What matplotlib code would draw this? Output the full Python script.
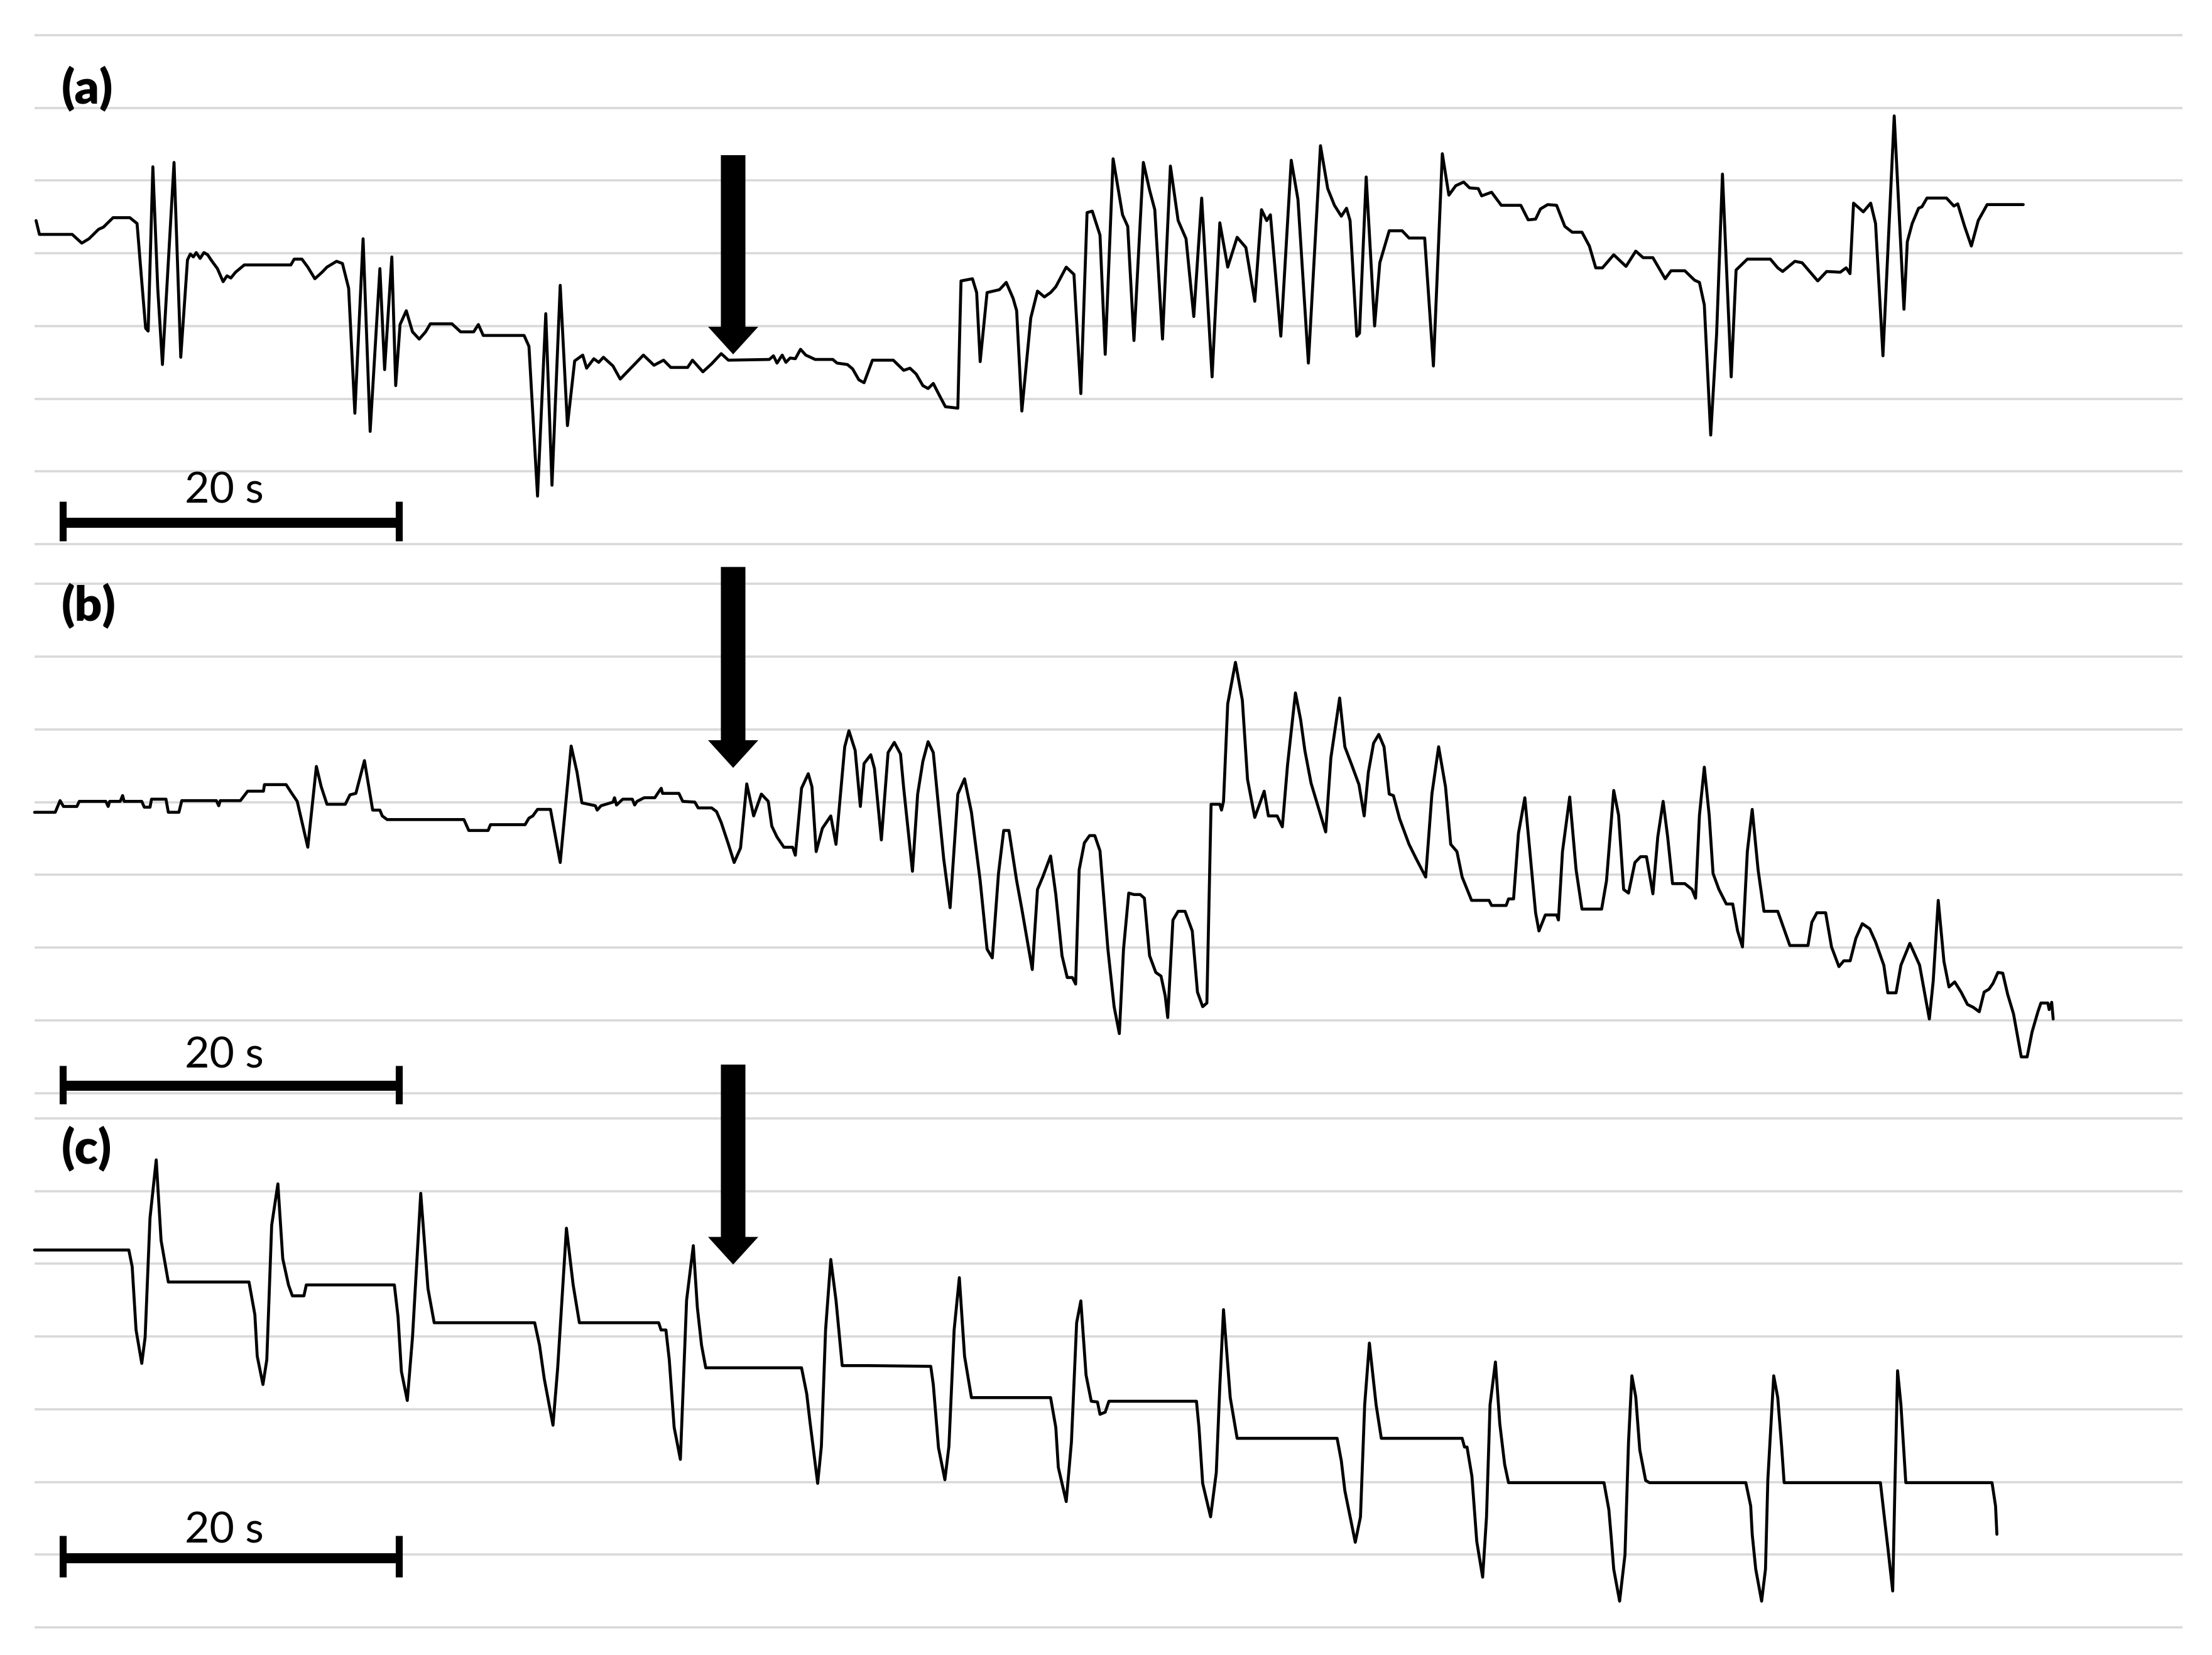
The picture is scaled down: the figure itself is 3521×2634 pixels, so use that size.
import matplotlib
matplotlib.use('Agg')
import matplotlib.pyplot as plt
from matplotlib.patches import FancyArrow

# traces: (time in s, amplitude in grid units)
trace_a = [
    (0.09, 4.45), (0.29, 4.26), (2.24, 4.26), (2.81, 4.14), (3.24, 4.20), (3.81, 4.33), (4.10, 4.36),
    (4.67, 4.49), (5.67, 4.49), (6.10, 4.41), (6.38, 3.61), (6.61, 2.97), (6.76, 2.93), (7.04, 5.19),
    (7.33, 3.52), (7.61, 2.47), (8.30, 5.25), (8.70, 2.57), (9.10, 3.91), (9.27, 3.99), (9.45, 3.95),
    (9.62, 4.01), (9.85, 3.93), (10.08, 4.01), (10.30, 3.98), (10.53, 3.90), (10.88, 3.79), (11.22, 3.61),
    (11.45, 3.69), (11.68, 3.66), (11.96, 3.74), (12.48, 3.84), (15.25, 3.84), (15.45, 3.92), (15.91, 3.92),
    (16.26, 3.81), (16.68, 3.65), (17.11, 3.74), (17.40, 3.81), (17.97, 3.89), (18.32, 3.86), (18.69, 3.52),
    (19.06, 1.80), (19.55, 4.20), (19.97, 1.55), (20.55, 3.79), (20.83, 2.40), (21.26, 3.95), (21.49, 2.18),
    (21.75, 3.02), (22.12, 3.21), (22.49, 2.92), (22.89, 2.82), (23.27, 2.92), (23.55, 3.03), (24.84, 3.03),
    (25.35, 2.92), (26.13, 2.92), (26.41, 3.02), (26.70, 2.87), (29.13, 2.87), (29.42, 2.72), (29.93, 0.66),
    (30.42, 3.17), (30.79, 0.81), (31.28, 3.56), (31.71, 1.63), (32.14, 2.52), (32.62, 2.60), (32.85, 2.42),
    (33.28, 2.55), (33.57, 2.50), (33.85, 2.57), (34.42, 2.45), (34.85, 2.27), (36.23, 2.60), (36.86, 2.46),
    (37.43, 2.53), (37.86, 2.43), (38.86, 2.43), (39.15, 2.53), (39.77, 2.37), (40.29, 2.48), (40.86, 2.62),
    (41.29, 2.53), (43.72, 2.54), (43.97, 2.59), (44.18, 2.49), (44.49, 2.60), (44.71, 2.50), (44.96, 2.56),
    (45.27, 2.55), (45.58, 2.68), (45.89, 2.60), (46.45, 2.54), (47.50, 2.54), (47.75, 2.49), (48.37, 2.47),
    (48.68, 2.41), (49.05, 2.26), (49.36, 2.22), (49.86, 2.53), (51.10, 2.53), (51.72, 2.39), (52.09, 2.42),
    (52.46, 2.34), (52.86, 2.18), (53.17, 2.14), (53.48, 2.21), (53.79, 2.07), (54.20, 1.89), (54.94, 1.87),
    (55.13, 3.62), (55.81, 3.65), (56.06, 3.46), (56.27, 2.51), (56.68, 3.46), (57.05, 3.48), (57.42, 3.50),
    (57.82, 3.60), (58.23, 3.38), (58.44, 3.21), (58.75, 1.83), (59.28, 3.11), (59.68, 3.48), (60.09, 3.40),
    (60.46, 3.46), (60.77, 3.54), (61.39, 3.81), (61.85, 3.71), (62.26, 2.07), (62.63, 4.56), (62.94, 4.58),
    (63.40, 4.25), (63.71, 2.61), (64.18, 5.30), (64.74, 4.53), (65.05, 4.37), (65.42, 2.80), (65.98, 5.25),
    (66.35, 4.87), (66.66, 4.60), (67.12, 2.82), (67.59, 5.20), (68.05, 4.45), (68.52, 4.20), (68.98, 3.13),
    (69.45, 4.76), (70.07, 2.30), (70.53, 4.42), (71.00, 3.81), (71.56, 4.22), (72.08, 4.08), (72.61, 3.34),
    (73.01, 4.60), (73.32, 4.45), (73.54, 4.53), (74.16, 2.86), (74.78, 5.28), (75.18, 4.74), (75.80, 2.49),
    (76.52, 5.48), (76.95, 4.89), (77.35, 4.66), (77.76, 4.51), (78.07, 4.62), (78.28, 4.45), (78.68, 2.86),
    (78.84, 2.90), (79.24, 5.05), (79.74, 3.00), (80.05, 3.87), (80.61, 4.31), (81.38, 4.31), (81.79, 4.21),
    (82.72, 4.21), (83.24, 2.45), (83.77, 5.37), (84.16, 4.80), (84.57, 4.93), (85.04, 4.98), (85.39, 4.90),
    (85.91, 4.89), (86.11, 4.79), (86.70, 4.84), (87.28, 4.66), (88.44, 4.66), (88.88, 4.46), (89.32, 4.47),
    (89.61, 4.61), (90.04, 4.67), (90.57, 4.66), (91.06, 4.37), (91.50, 4.29), (92.08, 4.29), (92.52, 4.10),
    (92.90, 3.80), (93.30, 3.80), (93.97, 3.98), (94.70, 3.82), (95.28, 4.03), (95.72, 3.94), (96.30, 3.94),
    (97.03, 3.65), (97.38, 3.76), (98.20, 3.76), (98.78, 3.63), (99.07, 3.60), (99.36, 3.29), (99.74, 1.50),
    (100.09, 2.88), (100.44, 5.09), (100.96, 2.30), (101.25, 3.77), (101.92, 3.92), (103.29, 3.92),
    (103.73, 3.80), (104.02, 3.75), (104.75, 3.89), (105.18, 3.87), (106.11, 3.62), (106.64, 3.75),
    (107.45, 3.74), (107.80, 3.80), (108.03, 3.72), (108.24, 4.69), (108.82, 4.57), (109.26, 4.69),
    (109.55, 4.41), (109.99, 2.59), (110.66, 5.89), (111.24, 3.23), (111.44, 4.16), (111.73, 4.41),
    (112.11, 4.62), (112.31, 4.64), (112.61, 4.76), (113.77, 4.76), (114.21, 4.65), (114.44, 4.68),
    (114.85, 4.37), (115.25, 4.10), (115.66, 4.45), (116.19, 4.67), (118.34, 4.67),
]

trace_b = [
    (0.00, 3.86), (1.23, 3.86), (1.52, 4.02), (1.72, 3.94), (2.52, 3.94), (2.66, 4.01), (4.24, 4.01),
    (4.38, 3.94), (4.47, 4.01), (5.10, 4.01), (5.24, 4.09), (5.33, 4.01), (6.38, 4.01), (6.53, 3.93),
    (6.87, 3.93), (6.96, 4.04), (7.82, 4.04), (7.96, 3.86), (8.59, 3.86), (8.76, 4.02), (10.82, 4.02),
    (10.96, 3.95), (11.05, 4.02), (12.25, 4.02), (12.68, 4.15), (13.62, 4.15), (13.68, 4.24), (14.97, 4.24),
    (15.25, 4.14), (15.63, 4.01), (16.26, 3.38), (16.77, 4.49), (17.06, 4.21), (17.40, 3.97), (18.49, 3.97),
    (18.77, 4.10), (19.12, 4.12), (19.63, 4.57), (20.12, 3.89), (20.55, 3.89), (20.69, 3.81), (20.98, 3.76),
    (25.55, 3.76), (25.84, 3.61), (26.99, 3.61), (27.13, 3.69), (29.19, 3.69), (29.42, 3.78), (29.65, 3.81),
    (29.93, 3.90), (30.70, 3.90), (31.28, 3.17), (31.93, 4.77), (32.28, 4.41), (32.57, 3.99), (33.37, 3.95),
    (33.48, 3.89), (33.71, 3.95), (34.42, 4.00), (34.51, 4.06), (34.63, 3.96), (35.00, 4.04), (35.57, 4.04),
    (35.71, 3.96), (35.85, 4.01), (36.28, 4.06), (36.91, 4.06), (37.14, 4.14), (37.29, 4.19), (37.37, 4.12),
    (38.34, 4.12), (38.57, 4.01), (39.29, 4.00), (39.49, 3.92), (40.29, 3.92), (40.58, 3.87), (40.86, 3.72),
    (41.29, 3.42), (41.63, 3.17), (42.01, 3.37), (42.38, 4.25), (42.79, 3.81), (43.25, 4.11), (43.66, 4.01),
    (43.87, 3.67), (44.18, 3.52), (44.59, 3.38), (45.11, 3.38), (45.27, 3.27), (45.64, 4.19), (46.04, 4.39),
    (46.26, 4.21), (46.51, 3.32), (46.88, 3.64), (47.38, 3.81), (47.69, 3.42), (48.21, 4.76), (48.46, 4.98),
    (48.83, 4.71), (49.14, 3.94), (49.36, 4.53), (49.76, 4.65), (49.98, 4.46), (50.39, 3.48), (50.79, 4.68),
    (51.16, 4.82), (51.53, 4.66), (51.72, 4.19), (52.24, 3.05), (52.55, 4.11), (52.86, 4.56), (53.17, 4.83),
    (53.48, 4.68), (53.79, 3.94), (54.10, 3.22), (54.48, 2.55), (54.94, 4.11), (55.34, 4.32), (55.75, 3.86),
    (56.27, 2.92), (56.68, 1.98), (56.99, 1.86), (57.36, 3.02), (57.67, 3.61), (57.98, 3.61), (58.44, 2.92),
    (58.75, 2.53), (59.37, 1.70), (59.68, 2.80), (59.99, 2.97), (60.46, 3.26), (60.77, 2.73), (61.14, 1.89),
    (61.45, 1.59), (61.76, 1.59), (61.95, 1.50), (62.16, 3.07), (62.47, 3.44), (62.78, 3.54), (63.09, 3.54),
    (63.40, 3.33), (63.87, 1.98), (64.24, 1.19), (64.55, 0.82), (64.80, 1.98), (65.11, 2.75), (65.42, 2.73),
    (65.79, 2.73), (66.04, 2.68), (66.35, 1.89), (66.72, 1.66), (67.03, 1.61), (67.28, 1.34), (67.43, 1.04),
    (67.74, 2.38), (68.05, 2.50), (68.46, 2.50), (68.89, 2.23), (69.20, 1.39), (69.51, 1.19), (69.76, 1.24),
    (70.01, 3.97), (70.53, 3.97), (70.63, 3.89), (70.75, 4.01), (71.00, 5.35), (71.46, 5.92), (71.87, 5.40),
    (72.18, 4.31), (72.61, 3.79), (73.17, 4.15), (73.42, 3.81), (73.94, 3.81), (74.25, 3.66), (74.56, 4.51),
    (75.03, 5.50), (75.34, 5.13), (75.59, 4.71), (75.96, 4.26), (76.83, 3.59), (77.14, 4.61), (77.66, 5.43),
    (77.97, 4.76), (78.38, 4.51), (78.81, 4.24), (79.12, 3.81), (79.37, 4.41), (79.68, 4.81), (79.99, 4.93),
    (80.30, 4.76), (80.61, 4.11), (80.86, 4.09), (81.23, 3.77), (81.79, 3.42), (82.22, 3.22), (82.78, 2.97),
    (83.15, 4.11), (83.55, 4.76), (83.96, 4.21), (84.27, 3.42), (84.64, 3.32), (84.95, 2.97), (85.51, 2.65),
    (86.55, 2.65), (86.70, 2.58), (87.57, 2.58), (87.71, 2.67), (88.01, 2.67), (88.30, 3.57), (88.68, 4.06),
    (89.02, 3.22), (89.32, 2.48), (89.52, 2.23), (89.90, 2.45), (90.57, 2.45), (90.68, 2.38), (90.92, 3.32),
    (91.35, 4.07), (91.73, 3.07), (92.08, 2.53), (93.25, 2.53), (93.54, 2.92), (93.97, 4.16), (94.26, 3.82),
    (94.56, 2.80), (94.85, 2.75), (95.23, 3.17), (95.57, 3.25), (95.92, 3.25), (96.30, 2.74), (96.59, 3.52),
    (96.91, 4.01), (97.18, 3.52), (97.47, 2.88), (98.20, 2.88), (98.63, 2.80), (98.84, 2.68), (99.07, 3.82),
    (99.36, 4.48), (99.65, 3.82), (99.88, 3.02), (100.23, 2.80), (100.67, 2.60), (101.05, 2.60),
    (101.34, 2.23), (101.63, 2.01), (101.92, 3.32), (102.21, 3.90), (102.56, 3.07), (102.91, 2.50),
    (103.73, 2.50), (104.45, 2.03), (105.53, 2.03), (105.76, 2.35), (106.06, 2.48), (106.58, 2.48),
    (106.93, 2.01), (107.37, 1.74), (107.66, 1.82), (108.04, 1.82), (108.38, 2.13), (108.76, 2.33),
    (109.20, 2.26), (109.55, 2.08), (110.04, 1.76), (110.28, 1.38), (110.77, 1.38), (111.06, 1.76),
    (111.59, 2.06), (112.17, 1.76), (112.75, 1.02), (112.98, 1.54), (113.28, 2.65), (113.62, 1.81),
    (113.92, 1.46), (114.26, 1.53), (114.64, 1.39), (115.02, 1.22), (115.37, 1.18), (115.72, 1.12),
    (116.01, 1.39), (116.30, 1.43), (116.54, 1.51), (116.83, 1.66), (117.12, 1.65), (117.41, 1.36),
    (117.76, 1.09), (118.22, 0.50), (118.57, 0.50), (118.86, 0.84), (119.21, 1.12), (119.39, 1.24),
    (119.80, 1.24), (119.88, 1.15), (120.03, 1.25), (120.12, 1.02),
]

trace_c = [
    (0.00, 5.19), (5.61, 5.19), (5.81, 4.96), (6.04, 4.09), (6.38, 3.63), (6.58, 3.99), (6.87, 5.63),
    (7.24, 6.43), (7.53, 5.32), (7.96, 4.75), (12.76, 4.75), (13.11, 4.30), (13.25, 3.73), (13.59, 3.34),
    (13.82, 3.68), (14.11, 5.53), (14.48, 6.10), (14.77, 5.07), (15.11, 4.71), (15.34, 4.56), (16.03, 4.56),
    (16.17, 4.71), (21.41, 4.71), (21.63, 4.27), (21.83, 3.52), (22.18, 3.12), (22.49, 3.99), (22.98, 5.97),
    (23.41, 4.66), (23.78, 4.19), (29.76, 4.19), (30.05, 3.88), (30.33, 3.42), (30.85, 2.78), (31.13, 3.57),
    (31.65, 5.49), (32.05, 4.71), (32.42, 4.19), (37.14, 4.19), (37.28, 4.09), (37.57, 4.09), (37.77, 3.68),
    (38.06, 2.75), (38.43, 2.31), (38.80, 4.50), (39.20, 5.25), (39.44, 4.40), (39.69, 3.88), (39.94, 3.57),
    (45.64, 3.57), (45.95, 3.21), (46.14, 2.83), (46.60, 1.98), (46.82, 2.49), (47.07, 4.09), (47.38, 5.06),
    (47.69, 4.50), (48.06, 3.60), (49.61, 3.60), (53.33, 3.59), (53.48, 3.34), (53.79, 2.47), (54.17, 2.03),
    (54.41, 2.49), (54.72, 4.09), (55.03, 4.81), (55.34, 3.73), (55.75, 3.16), (60.46, 3.16), (60.77, 2.75),
    (60.92, 2.20), (61.39, 1.73), (61.70, 2.55), (62.01, 4.19), (62.26, 4.49), (62.57, 3.47), (62.88, 3.11),
    (63.25, 3.10), (63.40, 2.93), (63.71, 2.96), (63.93, 3.11), (69.14, 3.11), (69.29, 2.75), (69.51, 1.98),
    (69.98, 1.52), (70.32, 2.13), (70.53, 3.32), (70.75, 4.37), (71.15, 3.16), (71.56, 2.60), (77.51, 2.60),
    (77.76, 2.29), (77.97, 1.88), (78.59, 1.17), (78.90, 1.52), (79.15, 3.06), (79.43, 3.91), (79.83, 3.06),
    (80.14, 2.60), (84.95, 2.60), (85.09, 2.48), (85.24, 2.48), (85.53, 2.08), (85.82, 1.18), (86.17, 0.69),
    (86.40, 1.52), (86.61, 3.06), (86.93, 3.65), (87.19, 2.80), (87.48, 2.24), (87.71, 1.99), (93.39, 1.99),
    (93.68, 1.62), (93.83, 1.21), (93.97, 0.80), (94.32, 0.36), (94.64, 1.00), (94.85, 2.55), (95.05, 3.46),
    (95.28, 3.17), (95.52, 2.44), (95.87, 2.02), (96.10, 1.99), (101.83, 1.99), (102.12, 1.67),
    (102.21, 1.28), (102.42, 0.80), (102.77, 0.36), (103.00, 0.80), (103.14, 2.03), (103.49, 3.46),
    (103.73, 3.16), (103.96, 2.49), (104.11, 1.99), (109.84, 1.99), (110.07, 1.52), (110.28, 1.10),
    (110.57, 0.50), (110.71, 2.03), (110.86, 3.53), (111.06, 3.06), (111.35, 1.99), (116.48, 1.99),
    (116.69, 1.67), (116.77, 1.28),
]

traces = [trace_a, trace_b, trace_c]
labels = ['(a)', '(b)', '(c)']
label_y = [6.27, 6.70, 6.59]
# arrow: (time, top of shaft, tip)
arrows = [(41.57, 5.35, 2.61), (41.57, 7.23, 4.47), (41.57, 7.74, 4.99)]
# 20 s scale bar: (bar level, tick top, tick bottom, text level)
bars = [(0.29, 0.59, 0.04, 0.73), (0.10, 0.38, -0.15, 0.51), (0.95, 1.26, 0.69, 1.33)]
bar_start = 1.68
bar_len = 20

W, H = 3521, 2634
fig = plt.figure(figsize=(W / 100, H / 100), dpi=100)
fig.patch.set_facecolor('white')

grid_px = [(56, 866), (929, 1740), (1780, 2590)]  # top / bottom gridline rows
x0, x1 = 55, 3474
px_per_s = 26.75
pad = 0.5

for i in range(3):
    top, bot = grid_px[i]
    unit = (bot - top) / 7.0
    b_px = bot + pad * unit
    t_px = top - pad * unit
    ax = fig.add_axes([x0 / W, 1 - b_px / H, (x1 - x0) / W, (b_px - t_px) / H])
    ax.set_xlim(0, (x1 - x0) / px_per_s)
    ax.set_ylim(-pad, 7 + pad)
    ax.set_yticks(range(8))
    ax.set_xticks([])
    ax.tick_params(left=False, labelleft=False)
    ax.grid(axis='y', color='#d9d9d9', lw=2.6)
    ax.set_axisbelow(True)
    for s in ax.spines.values():
        s.set_visible(False)
    ax.patch.set_alpha(0)

    t, v = zip(*traces[i])
    ax.plot(t, v, color='black', lw=3.4, solid_joinstyle='round',
            solid_capstyle='round', clip_on=False)

    ax.text(bar_start - 0.1, label_y[i], labels[i], ha='left', va='center', fontsize=55,
            fontweight='heavy', family='Lato')

    at, atop, atip = arrows[i]
    ax.add_patch(FancyArrow(at, atop, 0, atip - atop, width=1.46, head_width=2.99,
                            head_length=0.38, length_includes_head=True,
                            color='black', lw=0, clip_on=False))

    yb, ytop, ybot, ytxt = bars[i]
    ax.plot([bar_start, bar_start + bar_len], [yb, yb], color='black', lw=11.5,
            solid_capstyle='butt', clip_on=False)
    for xx in (bar_start, bar_start + bar_len):
        ax.plot([xx, xx], [ytop, ybot], color='black', lw=8, solid_capstyle='butt', clip_on=False)
    ax.text(bar_start + bar_len / 2 - 0.4, ytxt, '20 s', ha='center', va='center',
            fontsize=49, family='Lato')

fig.savefig('out.png', dpi=100, facecolor='white')
